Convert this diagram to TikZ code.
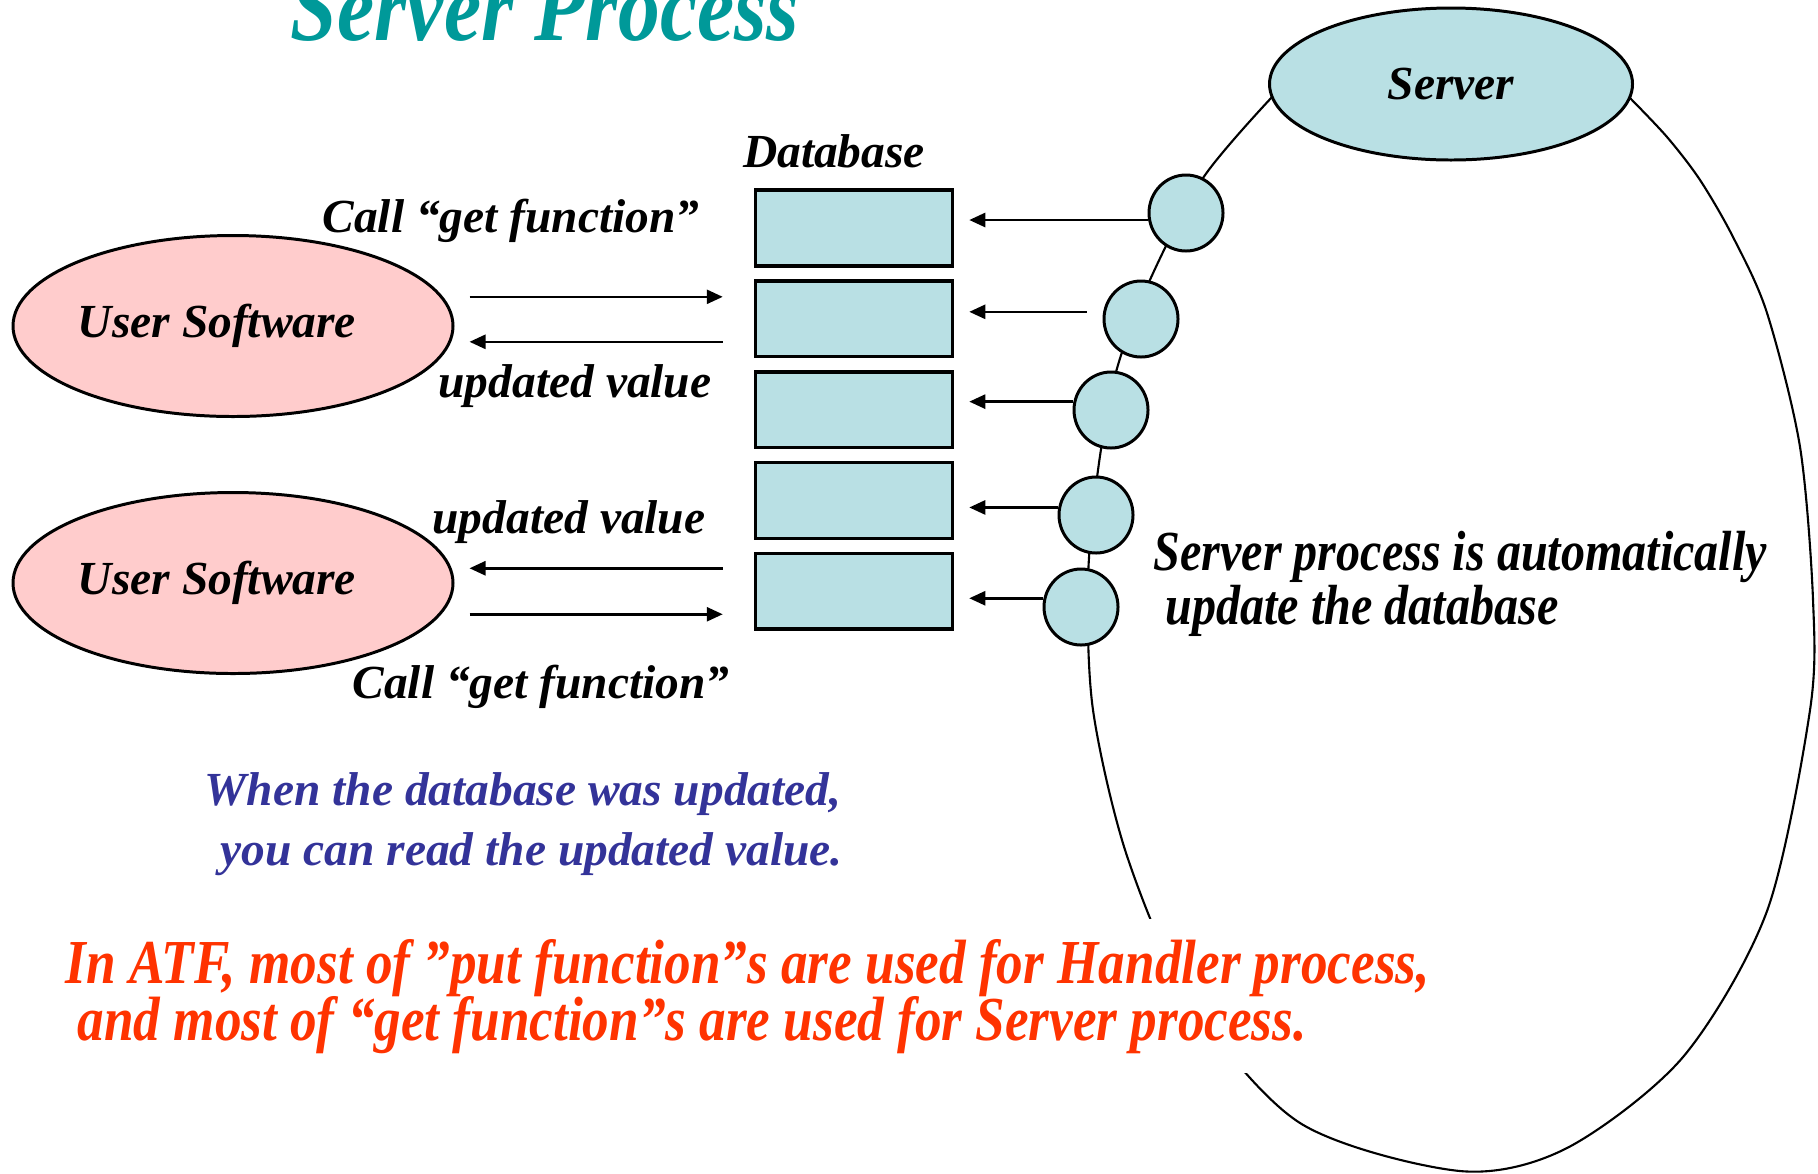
\documentclass[tikz,border=0pt]{standalone}
\usepackage{fontspec}
\setmainfont{Liberation Serif}
\newfontfamily\narrowfont{Liberation Serif}[FakeStretch=0.85]
\usetikzlibrary{positioning, arrows.meta, shapes.geometric}
\definecolor{dbblue}{RGB}{185,224,228}
\definecolor{userpink}{RGB}{255,204,204}
\definecolor{titleteal}{RGB}{0,153,153}
\definecolor{noteblue}{RGB}{51,51,153}
\definecolor{atfred}{RGB}{255,51,0}

\begin{document}
\begin{tikzpicture}[
    x=0.1mm, y=-0.1mm,
    font={\bfseries\itshape\fontsize{13.5}{16}\selectfont},
    usernode/.style={ellipse, draw=black, line width=0.85pt, fill=userpink, minimum width=4.4cm, minimum height=1.81cm, inner sep=0pt},
    servernode/.style={ellipse, draw=black, line width=0.85pt, fill=dbblue, minimum width=3.63cm, minimum height=1.52cm, inner sep=0pt},
    dbnode/.style={rectangle, draw=black, line width=1pt, fill=dbblue, minimum width=1.97cm, minimum height=0.757cm},
    portnode/.style={ellipse, draw=black, line width=0.85pt, fill=dbblue, minimum width=0.74cm, minimum height=0.76cm, inner sep=0pt},
    textnode/.style={inner sep=0pt, anchor=base},
    arr/.style={-{Triangle[length=1.6mm, width=1.4mm]}, line width=0.75pt}
]
\useasboundingbox (0,0) rectangle (1818,1173);

\draw[line width=0.6pt] plot[smooth, tension=0.5] coordinates {(1272,97) (1203,178) (1149,282) (1116,372) (1098,470) (1088,580) (1093,710) (1127,856) (1190,1000) (1300,1123) (1460,1171) (1567,1148) (1683,1057) (1767,911) (1810,710) (1813,600) (1800,447) (1767,313) (1733,237) (1700,180) (1667,137) (1630,98)};

\node[textnode, anchor=base west, text=titleteal, font={\narrowfont\bfseries\itshape\fontsize{28}{32}\selectfont}](title) at (290,40){Server Process};

\node[servernode](server) at (1451,84){Server};

\node[usernode](user1) at (233,326){User Software\hspace*{0.32cm}};
\node[usernode](user2) at (233,583){User Software\hspace*{0.32cm}};

\node[dbnode](db1) at (854,228){};
\node[dbnode](db2)[below = 0.116cm of db1]{};
\node[dbnode](db3)[below = 0.116cm of db2]{};
\node[dbnode](db4)[below = 0.116cm of db3]{};
\node[dbnode](db5)[below = 0.116cm of db4]{};
\node[inner sep=0pt, xshift=-2mm](dblabel)[above = 0.2cm of db1]{Database};

\node[portnode](port1) at (1186,213){};
\node[portnode](port2) at (1141,319){};
\node[portnode](port3) at (1111,410){};
\node[portnode](port4) at (1096,515){};
\node[portnode](port5) at (1081,607){};

\draw[arr, shorten >=1.5mm] ([yshift=0.8mm]db1.east -| port1.west) -- ([yshift=0.8mm]db1.east);
\draw[arr, shorten <=1.6mm, shorten >=1.5mm] ([yshift=0.7mm]db2.east -| port2.west) -- ([yshift=0.7mm]db2.east);
\draw[arr, shorten >=1.5mm] ([yshift=0.8mm]db3.east -| port3.west) -- ([yshift=0.8mm]db3.east);
\draw[arr, shorten >=1.5mm] ([yshift=-0.7mm]db4.east -| port4.west) -- ([yshift=-0.7mm]db4.east);
\draw[arr, shorten >=1.5mm] ([yshift=-0.7mm]db5.east -| port5.west) -- ([yshift=-0.7mm]db5.east);

\draw[arr, shorten <=1.5mm, shorten >=3.1mm] ([yshift=2.2mm]db2.west -| user1.east) -- ([yshift=2.2mm]db2.west);
\draw[arr, shorten <=3.1mm, shorten >=1.5mm] ([yshift=-2.3mm]db2.west) -- ([yshift=-2.3mm]db2.west -| user1.east);
\draw[arr, shorten <=3.1mm, shorten >=1.5mm] ([yshift=2.3mm]db5.west) -- ([yshift=2.3mm]db5.west -| user2.east);
\draw[arr, shorten <=1.5mm, shorten >=3.1mm] ([yshift=-2.3mm]db5.west -| user2.east) -- ([yshift=-2.3mm]db5.west);

\node[textnode](call1) at (511,232){Call “get function”};
\node[textnode](upd1) at (575,397){updated value};
\node[textnode](upd2) at (569,533){updated value};
\node[textnode](call2) at (541,698){Call “get function”};

\node[textnode, anchor=base west, align=left, font={\narrowfont\bfseries\itshape\fontsize{16.1}{15.1}\selectfont\lineskiplimit=-20pt}](autonote) at (1153,624){Server process is automatically\\\hspace*{0.12cm}update the database};

\node[textnode, anchor=base west, align=left, text=noteblue, font={\bfseries\itshape\fontsize{13.5}{17}\selectfont\lineskiplimit=-20pt}](readnote) at (204,865){When the database was updated,\\\hspace*{0.16cm}you can read the updated value.};

\node[anchor=base west, inner sep=0.2cm, fill=white, align=left, text=atfred, font={\narrowfont\bfseries\itshape\fontsize{17.8}{16.2}\selectfont\lineskiplimit=-20pt}](atfnote) at (45,1040){In ATF, most of ”put function”s are used for Handler process,\\\hspace*{0.12cm}and most of “get function”s are used for Server process.};
\end{tikzpicture}
\end{document}
